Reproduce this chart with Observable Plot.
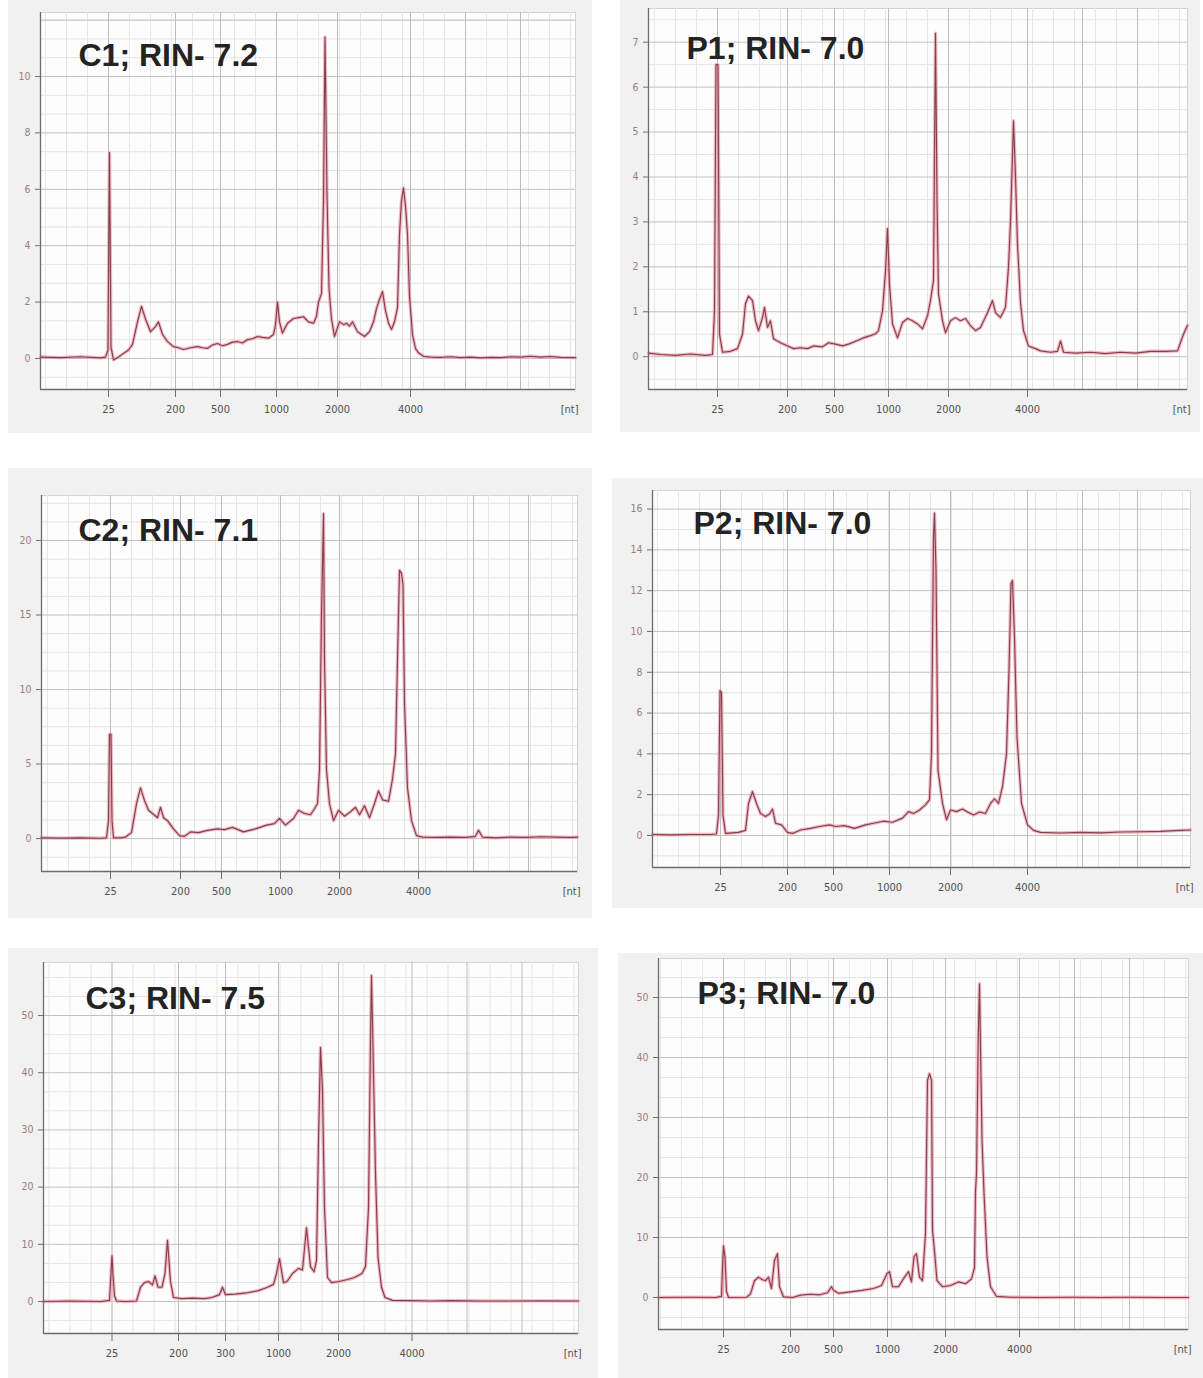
<!DOCTYPE html>
<html><head><meta charset="utf-8">
<script src="https://cdn.jsdelivr.net/npm/d3@7"></script>
<script src="https://cdn.jsdelivr.net/npm/@observablehq/plot@0.6"></script>
<style>
body{margin:0;background:#fff;}
#root{position:relative;width:1203px;height:1378px;overflow:hidden;background:#fff;}
#root svg{position:absolute;}
</style></head><body><div id="root"></div>
<script>
// ---- tick labels (ladder sizes, nt) ----
const ladderLabels = ["25","200","500","1000","2000","4000"];
const ladderLabelsC3 = ["25","200","300","1000","2000","4000"];

// ---- ladder migration times (s) per run ----
const ladderC1 = [23.8, 30.5, 35.0, 40.6, 46.7, 54.0];
const ladderP1 = [23.9, 30.9, 35.6, 41.0, 47.0, 54.9];
const ladderC2 = [23.9, 30.9, 35.0, 40.9, 46.8, 54.7];
const ladderP2 = [23.8, 30.5, 35.1, 40.7, 46.8, 54.5];
const ladderC3 = [23.85, 30.5, 35.2, 40.5, 46.5, 53.85];
const ladderP3 = [23.5, 30.2, 34.5, 39.9, 45.7, 53.1];

// ---- titles ----
const titles = ["C1; RIN- 7.2","P1; RIN- 7.0","C2; RIN- 7.1","P2; RIN- 7.0","C3; RIN- 7.5","P3; RIN- 7.0"];

// ---- y tick values (FU) ----
const yTicksC1 = [0,2,4,6,8,10];
const yTicksP1 = [0,1,2,3,4,5,6,7];
const yTicksC2 = [0,5,10,15,20];
const yTicksP2 = [0,2,4,6,8,10,12,14,16];
const yTicksC3 = [0,10,20,30,40,50];
const yTicksP3 = [0,10,20,30,40,50];

// ---- electropherogram traces: [time (s), fluorescence (FU)] ----
const traceC1 = [[17.0,0.05],[19.0,0.03],[21.0,0.06],[23.0,0.02],[23.5,0.05],[23.75,0.3],[23.9,7.3],[24.05,0.4],[24.3,-0.05],[24.8,0.05],[25.3,0.18],[25.8,0.3],[26.2,0.5],[26.7,1.3],[27.1,1.85],[27.5,1.4],[28.0,0.95],[28.5,1.13],[28.8,1.3],[29.2,0.85],[29.7,0.6],[30.3,0.42],[30.8,0.38],[31.3,0.32],[32.0,0.38],[32.7,0.42],[33.2,0.38],[33.7,0.36],[34.2,0.48],[34.7,0.53],[35.2,0.45],[35.7,0.5],[36.2,0.58],[36.7,0.6],[37.2,0.55],[37.7,0.67],[38.2,0.7],[38.7,0.78],[39.2,0.75],[39.8,0.72],[40.3,0.85],[40.5,1.2],[40.7,2.0],[40.9,1.3],[41.2,0.9],[41.7,1.25],[42.3,1.42],[42.8,1.45],[43.3,1.48],[43.8,1.3],[44.3,1.25],[44.6,1.5],[44.8,2.0],[45.1,2.3],[45.3,5.6],[45.45,11.4],[45.65,5.8],[45.85,2.5],[46.1,1.4],[46.4,0.78],[46.9,1.3],[47.3,1.2],[47.6,1.25],[47.9,1.15],[48.2,1.3],[48.7,0.95],[49.4,0.78],[49.9,0.95],[50.3,1.3],[50.6,1.77],[50.9,2.1],[51.2,2.37],[51.5,1.7],[51.8,1.25],[52.1,1.03],[52.4,1.3],[52.7,1.8],[52.9,4.4],[53.1,5.6],[53.3,6.05],[53.5,5.4],[53.7,4.4],[53.9,2.2],[54.2,0.85],[54.5,0.35],[54.8,0.2],[55.3,0.08],[56.0,0.05],[57.0,0.04],[58.0,0.06],[59.0,0.03],[60.0,0.05],[61.0,0.02],[62.0,0.04],[63.0,0.03],[64.0,0.06],[65.0,0.05],[66.0,0.08],[67.0,0.05],[68.0,0.07],[69.0,0.04],[70.5,0.03]];

const traceP1 = [[17.0,0.08],[18.2,0.05],[19.7,0.03],[21.2,0.06],[22.7,0.03],[23.4,0.05],[23.6,1.0],[23.75,6.5],[23.95,6.5],[24.1,0.5],[24.4,0.1],[25.2,0.12],[25.9,0.18],[26.4,0.5],[26.7,1.18],[27.0,1.35],[27.4,1.25],[27.7,0.8],[28.0,0.58],[28.4,0.87],[28.6,1.1],[28.9,0.65],[29.2,0.8],[29.5,0.4],[30.2,0.31],[30.9,0.24],[31.5,0.18],[32.2,0.2],[32.9,0.18],[33.5,0.24],[34.4,0.22],[35.0,0.31],[35.7,0.28],[36.4,0.24],[37.0,0.28],[37.9,0.36],[38.5,0.42],[39.2,0.47],[39.7,0.51],[40.0,0.58],[40.4,1.02],[40.7,1.9],[40.9,2.85],[41.1,1.6],[41.4,0.73],[41.9,0.42],[42.4,0.76],[42.9,0.85],[43.4,0.8],[43.9,0.73],[44.4,0.62],[44.9,0.91],[45.2,1.25],[45.5,1.7],[45.7,7.2],[45.85,3.5],[46.0,1.4],[46.4,0.8],[46.7,0.53],[47.2,0.8],[47.7,0.87],[48.2,0.8],[48.7,0.85],[49.2,0.69],[49.7,0.58],[50.2,0.65],[50.9,0.98],[51.4,1.25],[51.7,0.98],[52.2,0.87],[52.7,1.1],[53.0,2.0],[53.2,3.0],[53.5,5.25],[53.7,4.0],[53.9,2.5],[54.2,1.2],[54.5,0.58],[55.0,0.24],[55.7,0.18],[56.2,0.13],[57.2,0.1],[57.9,0.12],[58.2,0.35],[58.5,0.1],[59.7,0.08],[61.2,0.1],[62.7,0.07],[64.2,0.1],[65.7,0.08],[67.2,0.12],[68.7,0.12],[69.9,0.13],[70.5,0.5],[70.9,0.7]];

const traceC2 = [[17.0,0.05],[18.9,0.03],[20.9,0.05],[22.9,0.02],[23.5,0.05],[23.7,1.2],[23.8,7.0],[23.95,7.0],[24.05,1.2],[24.2,0.05],[24.9,0.05],[25.4,0.1],[26.0,0.4],[26.5,2.35],[26.9,3.4],[27.3,2.55],[27.7,1.9],[28.1,1.68],[28.6,1.4],[28.9,2.1],[29.2,1.4],[29.6,1.2],[30.2,0.65],[30.8,0.2],[31.3,0.15],[31.9,0.45],[32.7,0.4],[33.6,0.55],[34.6,0.65],[35.3,0.6],[36.1,0.75],[37.2,0.45],[38.4,0.65],[39.5,0.9],[40.3,1.0],[40.8,1.35],[41.4,0.9],[42.2,1.35],[42.7,1.9],[43.3,1.68],[43.9,1.6],[44.3,2.0],[44.6,2.35],[44.8,4.6],[45.0,15],[45.2,21.8],[45.3,12.0],[45.5,4.6],[45.8,2.35],[46.2,1.2],[46.7,1.9],[47.3,1.5],[47.9,1.8],[48.4,2.1],[48.8,1.6],[49.3,2.2],[49.8,1.4],[50.3,2.35],[50.7,3.2],[51.1,2.6],[51.7,2.5],[52.1,4.0],[52.4,5.7],[52.6,12],[52.8,18.0],[53.0,17.8],[53.15,17.0],[53.3,9.1],[53.6,3.4],[54.0,1.2],[54.5,0.2],[55.1,0.1],[56.4,0.08],[57.9,0.1],[59.4,0.08],[60.4,0.15],[60.7,0.55],[61.1,0.1],[62.4,0.05],[63.9,0.1],[65.4,0.08],[66.9,0.12],[68.4,0.1],[69.9,0.08],[70.6,0.1]];

const traceP2 = [[17.0,0.05],[18.8,0.03],[20.8,0.05],[22.8,0.05],[23.4,0.07],[23.6,1.0],[23.75,7.1],[23.9,7.0],[24.05,1.0],[24.3,0.1],[25.6,0.15],[26.3,0.25],[26.6,1.57],[27.0,2.15],[27.4,1.57],[27.8,1.08],[28.3,0.93],[28.7,1.05],[29.0,1.3],[29.3,0.6],[29.9,0.52],[30.5,0.15],[31.0,0.1],[31.8,0.27],[32.8,0.35],[33.7,0.44],[34.7,0.52],[35.3,0.44],[36.2,0.48],[37.2,0.35],[38.3,0.52],[39.1,0.6],[40.1,0.7],[41.0,0.65],[42.0,0.85],[42.6,1.17],[43.1,1.08],[43.7,1.25],[44.3,1.5],[44.7,1.75],[44.9,4.0],[45.1,14.6],[45.2,15.8],[45.35,13.0],[45.55,3.2],[46.0,1.57],[46.4,0.77],[46.8,1.25],[47.4,1.17],[48.0,1.3],[48.5,1.15],[49.1,1.0],[49.7,1.15],[50.3,1.08],[50.8,1.57],[51.2,1.8],[51.6,1.57],[52.0,2.4],[52.4,4.0],[52.65,8.1],[52.85,12.35],[53.0,12.5],[53.2,9.7],[53.45,4.8],[53.9,1.57],[54.5,0.52],[55.1,0.25],[55.8,0.15],[57.8,0.12],[59.8,0.15],[61.8,0.13],[63.8,0.17],[65.8,0.18],[67.8,0.2],[69.8,0.25],[70.8,0.27]];

const traceC3 = [[17.0,0],[19.7,0.1],[22.7,0],[23.6,0.2],[23.75,5],[23.85,8.0],[23.95,4.5],[24.1,1.0],[24.3,0.1],[25.2,0],[26.3,0.1],[26.7,2.5],[27.1,3.3],[27.5,3.5],[27.9,2.9],[28.15,4.5],[28.45,2.5],[28.85,2.5],[29.15,4.9],[29.4,10.7],[29.7,3.5],[30.0,0.7],[30.8,0.5],[31.9,0.6],[33.1,0.5],[33.85,0.7],[34.6,1.2],[34.9,2.5],[35.2,1.2],[36.15,1.3],[37.3,1.5],[38.5,1.9],[39.4,2.5],[40.0,3.0],[40.3,4.9],[40.6,7.5],[41.0,3.3],[41.35,3.5],[41.9,4.9],[42.5,5.8],[42.9,5.5],[43.3,12.9],[43.7,6.1],[44.05,5.2],[44.3,7.2],[44.5,28],[44.7,44.4],[44.9,36.9],[45.1,16.4],[45.4,4.2],[45.8,3.3],[46.55,3.5],[47.3,3.8],[48.1,4.2],[48.85,4.9],[49.2,6.1],[49.5,16.4],[49.7,45.6],[49.8,57],[50.0,39.9],[50.2,22.4],[50.45,7.7],[50.8,2.5],[51.15,0.7],[51.9,0.2],[53.7,0.15],[55.7,0.1],[57.7,0.15],[60.7,0.1],[63.7,0.1],[66.7,0.12],[70.5,0.1]];

const traceP3 = [[17.0,0],[20.2,0.05],[22.7,0],[23.3,0.2],[23.4,5],[23.5,8.6],[23.65,6.7],[23.8,1],[24.0,0],[25.8,0.05],[26.2,0.6],[26.6,2.8],[27.0,3.4],[27.35,3.0],[27.7,2.8],[28.0,3.4],[28.3,1.5],[28.6,6.2],[28.9,7.3],[29.1,1.8],[29.5,0.1],[30.4,0],[31.2,0.4],[32.2,0.55],[33.1,0.45],[33.9,0.8],[34.3,1.8],[34.5,1.2],[35.0,0.7],[36.2,0.95],[37.35,1.2],[38.5,1.5],[39.3,2.0],[39.85,4.0],[40.1,4.3],[40.4,1.8],[41.0,1.8],[41.6,3.4],[42.0,4.3],[42.3,2.6],[42.55,6.8],[42.8,7.3],[43.1,3.4],[43.4,2.8],[43.7,10.7],[43.9,36.2],[44.1,37.3],[44.3,36.2],[44.4,11.2],[44.65,6.8],[44.85,2.8],[45.4,1.8],[46.2,2.0],[47.0,2.6],[47.7,2.3],[48.3,3.1],[48.6,5.0],[48.7,17.8],[48.8,20.5],[48.97,42.8],[49.1,52.3],[49.35,26.2],[49.55,17.5],[49.85,6.8],[50.2,1.8],[50.8,0.2],[52.2,0.05],[55.2,0],[58.2,0.05],[61.2,0],[64.2,0.05],[67.2,0],[70.0,0]];

// ---- panel layout (styling only) ----
const panels = [
  {trace: traceC1, ladder: ladderC1, labels: ladderLabels, yTicks: yTicksC1, minorDiv: 3, title: titles[0],
   box: {left: 8, top: 0, w: 584, h: 433}, m: {t: 12, r: 17, b: 44, l: 32}, xd: [17, 70.5], yd: [-1.1, 12.27], tdx: 38, tdy: 43},
  {trace: traceP1, ladder: ladderP1, labels: ladderLabels, yTicks: yTicksP1, minorDiv: 2, title: titles[1],
   box: {left: 620, top: 0, w: 580, h: 432}, m: {t: 8, r: 13, b: 43, l: 28}, xd: [17, 70.9], yd: [-0.73, 7.75], tdx: 38, tdy: 40},
  {trace: traceC2, ladder: ladderC2, labels: ladderLabels, yTicks: yTicksC2, minorDiv: 4, title: titles[2],
   box: {left: 8, top: 468, w: 584, h: 450}, m: {t: 27, r: 15, b: 47, l: 33}, xd: [17, 70.6], yd: [-2.21, 23.02], tdx: 37, tdy: 35},
  {trace: traceP2, ladder: ladderP2, labels: ladderLabels, yTicks: yTicksP2, minorDiv: 2, title: titles[3],
   box: {left: 612, top: 478, w: 591, h: 430}, m: {t: 12, r: 13, b: 41, l: 40}, xd: [17, 70.8], yd: [-1.57, 16.91], tdx: 41, tdy: 33},
  {trace: traceC3, ladder: ladderC3, labels: ladderLabelsC3, yTicks: yTicksC3, minorDiv: 3, title: titles[4],
   box: {left: 8, top: 948, w: 590, h: 430}, m: {t: 14, r: 20, b: 45, l: 35}, xd: [17, 70.5], yd: [-5.59, 59.27], tdx: 42, tdy: 36},
  {trace: traceP3, ladder: ladderP3, labels: ladderLabels, yTicks: yTicksP3, minorDiv: 3, title: titles[5],
   box: {left: 618, top: 953, w: 585, h: 425}, m: {t: 5, r: 15, b: 49, l: 40}, xd: [17, 70.0], yd: [-5.33, 56.5], tdx: 39, tdy: 35}
];

const root = document.getElementById("root");
const tickFont = "'Liberation Sans Narrow', 'DejaVu Sans Condensed', 'Liberation Sans', sans-serif";

for (const p of panels) {
  const step = p.yTicks[1] - p.yTicks[0];
  const minorY = d3.range(Math.ceil(p.yd[0] / (step / p.minorDiv)) * (step / p.minorDiv), p.yd[1], step / p.minorDiv)
    .filter(v => !p.yTicks.some(t => Math.abs(t - v) < 1e-6));
  const majorYExtra = [p.yTicks[p.yTicks.length - 1] + step].filter(v => v < p.yd[1]);
  const minorX = d3.range(p.ladder[0] - 2.1 * 3, p.xd[1], 2.1).filter(v => v > p.xd[0]);
  const extraMajorX = [p.ladder[5] + 5.5, p.ladder[5] + 11].filter(v => v < p.xd[1]);
  const labelMap = new Map(p.ladder.map((v, i) => [v, p.labels[i]]));

  const svg = Plot.plot({
    width: p.box.w,
    height: p.box.h,
    marginTop: p.m.t, marginRight: p.m.r, marginBottom: p.m.b, marginLeft: p.m.l,
    style: {background: "#f1f1f1", fontFamily: tickFont, fontSize: "11px", overflow: "visible"},
    x: {type: "linear", domain: p.xd},
    y: {type: "linear", domain: p.yd},
    marks: [
      Plot.frame({fill: "#fdfdfd", stroke: "#d2d2d2"}),
      Plot.ruleY(minorY, {stroke: "#e4e4e4", strokeWidth: 1}),
      Plot.ruleX(minorX, {stroke: "#e6e6e6", strokeWidth: 1}),
      Plot.ruleY(p.yTicks.concat(majorYExtra), {stroke: "#c2c2c2", strokeWidth: 1}),
      Plot.ruleX(p.ladder.concat(extraMajorX), {stroke: "#bdbdbd", strokeWidth: 1}),
      Plot.line(p.trace, {x: d => d[0], y: d => d[1], stroke: "#eb9aa6", strokeWidth: 3.4, strokeOpacity: 0.7}),
      Plot.line(p.trace, {x: d => d[0], y: d => d[1], stroke: "#84404e", strokeWidth: 1.15}),
      Plot.ruleX([p.xd[0]], {stroke: "#6d6d6d", strokeWidth: 1.3}),
      Plot.ruleY([p.yd[0]], {stroke: "#6d6d6d", strokeWidth: 1.3}),
      Plot.axisY(p.yTicks, {tickSize: 5, tickPadding: 5, stroke: "#7a6a6a", fill: "#a07c7c", label: null, fontSize: 10.5}),
      Plot.axisX(p.ladder, {tickSize: 8, tickPadding: 8, stroke: "#6d6d6d", fill: "#505050", label: null,
        tickFormat: d => labelMap.get(d), fontSize: 11}),
      Plot.text(["[nt]"], {frameAnchor: "bottom-right", dx: 3, dy: 23, textAnchor: "end", fill: "#505050", fontSize: 11}),
      Plot.text([p.title], {frameAnchor: "top-left", dx: p.tdx, dy: p.tdy, textAnchor: "start", lineAnchor: "middle",
        fontFamily: "'Liberation Sans', Arial, sans-serif", fontWeight: "bold", fontSize: 32, fill: "#232323"})
    ]
  });
  svg.style.left = p.box.left + "px";
  svg.style.top = p.box.top + "px";
  root.appendChild(svg);
}
</script>
</body></html>
